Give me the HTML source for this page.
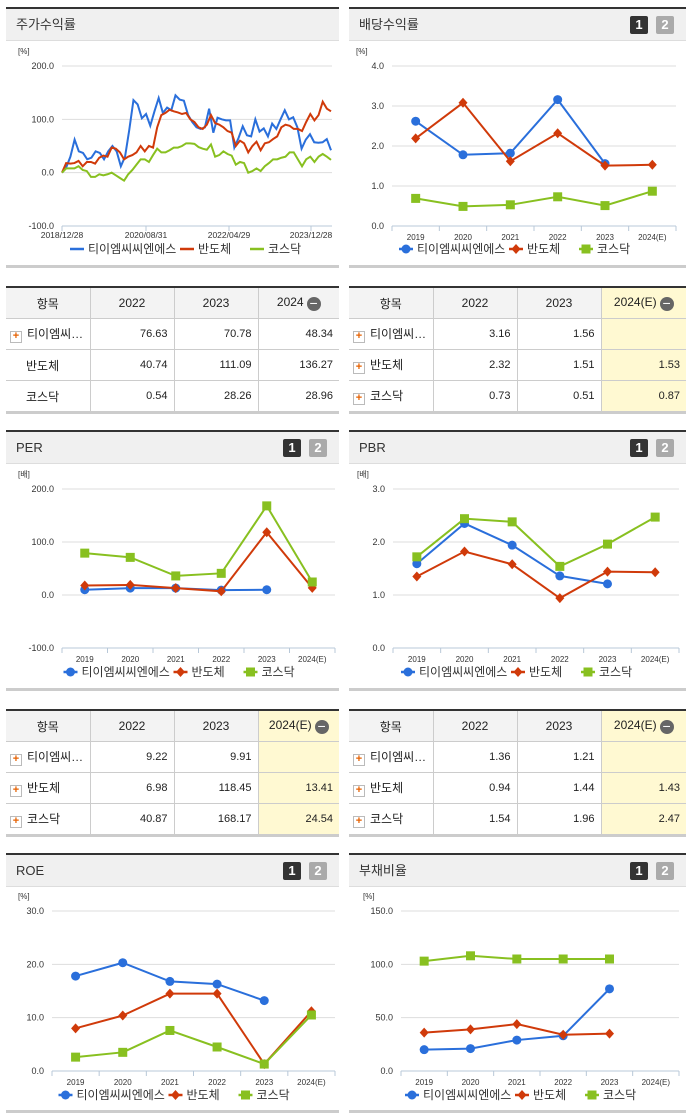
<!DOCTYPE html>
<html><head><meta charset="utf-8">
<style>
body{margin:0;width:691px;height:1115px;background:#fff;font-family:"Liberation Sans","Noto Sans CJK KR",sans-serif;position:relative;overflow:hidden}
.panel{position:absolute;border-top:2px solid #333}
.hdr{height:31px;background:#f0f0f0;border-bottom:1px solid #ddd;font-size:13px;color:#333;line-height:31px;padding-left:10px;position:relative}
.bd{position:absolute;top:7px;width:18px;height:18px;font-size:13px;font-weight:bold;color:#fff;text-align:center;line-height:18px;border-radius:2px}
.b1{right:38px;background:#333}.b2{right:12px;background:#aaa}
.foot{position:absolute;height:3px;background:#ccc}
table{position:absolute;border-collapse:collapse;border-top:2px solid #333;border-bottom:3px solid #ccc;font-size:11px;color:#222;table-layout:fixed}
td,th{border:1px solid #ccc;height:30px;padding:0 6px}
th{background:#f3f3f3;font-weight:normal;font-size:12px;text-align:center}
tr td:first-child,tr th:first-child{border-left:none}
tr td:last-child,tr th:last-child{border-right:none}
td{text-align:right}
td.n{text-align:left;font-size:12px;padding-left:4px}
.pl{display:inline-block;width:10px;height:10px;border:1px solid #bbb;background:#fff;color:#e66000;font-size:11px;line-height:9px;text-align:center;margin-right:5px;vertical-align:-1px;font-weight:bold}
.y{background:#fff9d2}
.mn{display:inline-block;width:14px;height:14px;border-radius:7px;background:#666;color:#fff;line-height:13px;font-size:14px;vertical-align:-2px;margin-left:3px}
svg{position:absolute;left:0;top:0}
</style></head><body>

<div class="panel" style="left:6px;top:7px;width:333px"><div class="hdr">주가수익률</div></div>
<div class="panel" style="left:349px;top:7px;width:337px"><div class="hdr">배당수익률<span class="bd b1">1</span><span class="bd b2">2</span></div></div>
<div class="foot" style="left:6px;top:265px;width:333px"></div>
<div class="foot" style="left:349px;top:265px;width:337px"></div>

<table style="left:6px;top:286px;width:333px">
<colgroup><col style="width:84px"><col style="width:84px"><col style="width:84px"><col></colgroup>
<tr><th>항목</th><th>2022</th><th>2023</th><th>2024<span class="mn">−</span></th></tr>
<tr><td class="n"><span class="pl">+</span>티이엠씨…</td><td>76.63</td><td>70.78</td><td>48.34</td></tr>
<tr><td class="n" style="padding-left:20px">반도체</td><td>40.74</td><td>111.09</td><td>136.27</td></tr>
<tr><td class="n" style="padding-left:20px">코스닥</td><td>0.54</td><td>28.26</td><td>28.96</td></tr>
</table>
<table style="left:349px;top:286px;width:337px">
<colgroup><col style="width:84px"><col style="width:84px"><col style="width:84px"><col></colgroup>
<tr><th>항목</th><th>2022</th><th>2023</th><th class="y">2024(E)<span class="mn">−</span></th></tr>
<tr><td class="n"><span class="pl">+</span>티이엠씨…</td><td>3.16</td><td>1.56</td><td class="y"></td></tr>
<tr><td class="n"><span class="pl">+</span>반도체</td><td>2.32</td><td>1.51</td><td class="y">1.53</td></tr>
<tr><td class="n"><span class="pl">+</span>코스닥</td><td>0.73</td><td>0.51</td><td class="y">0.87</td></tr>
</table>

<div class="panel" style="left:6px;top:430px;width:333px"><div class="hdr">PER<span class="bd b1">1</span><span class="bd b2">2</span></div></div>
<div class="panel" style="left:349px;top:430px;width:337px"><div class="hdr">PBR<span class="bd b1">1</span><span class="bd b2">2</span></div></div>
<div class="foot" style="left:6px;top:688px;width:333px"></div>
<div class="foot" style="left:349px;top:688px;width:337px"></div>

<table style="left:6px;top:709px;width:333px">
<colgroup><col style="width:84px"><col style="width:84px"><col style="width:84px"><col></colgroup>
<tr><th>항목</th><th>2022</th><th>2023</th><th class="y">2024(E)<span class="mn">−</span></th></tr>
<tr><td class="n"><span class="pl">+</span>티이엠씨…</td><td>9.22</td><td>9.91</td><td class="y"></td></tr>
<tr><td class="n"><span class="pl">+</span>반도체</td><td>6.98</td><td>118.45</td><td class="y">13.41</td></tr>
<tr><td class="n"><span class="pl">+</span>코스닥</td><td>40.87</td><td>168.17</td><td class="y">24.54</td></tr>
</table>
<table style="left:349px;top:709px;width:337px">
<colgroup><col style="width:84px"><col style="width:84px"><col style="width:84px"><col></colgroup>
<tr><th>항목</th><th>2022</th><th>2023</th><th class="y">2024(E)<span class="mn">−</span></th></tr>
<tr><td class="n"><span class="pl">+</span>티이엠씨…</td><td>1.36</td><td>1.21</td><td class="y"></td></tr>
<tr><td class="n"><span class="pl">+</span>반도체</td><td>0.94</td><td>1.44</td><td class="y">1.43</td></tr>
<tr><td class="n"><span class="pl">+</span>코스닥</td><td>1.54</td><td>1.96</td><td class="y">2.47</td></tr>
</table>

<div class="panel" style="left:6px;top:853px;width:333px"><div class="hdr">ROE<span class="bd b1">1</span><span class="bd b2">2</span></div></div>
<div class="panel" style="left:349px;top:853px;width:337px"><div class="hdr">부채비율<span class="bd b1">1</span><span class="bd b2">2</span></div></div>
<div class="foot" style="left:6px;top:1110px;width:333px"></div>
<div class="foot" style="left:349px;top:1110px;width:337px"></div>

<svg id="chart" width="691" height="1115"></svg>

<script>
// ---- stock return (index-spaced weekly-ish samples) ----
const stockDates = ["2018/12/28","2020/08/31","2022/04/29","2023/12/28"];
const stockTicks = [200,100,0,-100];
const stockBlue = [0,10,30,62,40,37,25,28,40,37,25,40,50,40,12,30,80,136,128,102,110,88,115,140,112,122,117,145,137,135,108,95,85,82,85,120,75,103,100,98,98,47,65,87,70,68,100,77,83,68,92,82,100,117,100,104,85,45,62,72,57,56,57,63,42];
const stockRed = [0,18,17,18,22,12,20,20,17,28,32,30,47,45,38,25,30,33,38,50,40,50,47,85,108,112,118,115,113,110,112,100,95,85,82,90,108,93,90,85,78,75,50,60,55,38,50,58,42,55,57,63,68,85,90,88,82,82,78,95,110,98,108,133,120,115];
const stockGreen = [0,8,8,8,12,5,3,-8,-8,-3,-5,-3,0,-5,-10,-15,-3,5,15,25,25,20,33,45,38,38,42,47,47,50,55,55,54,48,45,43,53,30,33,40,35,32,15,20,18,0,3,8,3,12,18,25,25,28,30,38,38,25,12,25,30,20,30,35,30,24];

// ---- annual charts ----
const years = ["2019","2020","2021","2022","2023","2024(E)"];
const divTicks = [4,3,2,1,0];
const divBlue = [2.62,1.78,1.82,3.16,1.56];
const divRed = [2.19,3.08,1.62,2.32,1.51,1.53];
const divGreen = [0.69,0.49,0.53,0.73,0.51,0.87];
const perTicks = [200,100,0,-100];
const perBlue = [10,13,13,9.22,9.91];
const perRed = [18,19,13,6.98,118.45,13.41];
const perGreen = [79,71,36,40.87,168.17,24.54];
const pbrTicks = [3,2,1,0];
const pbrBlue = [1.59,2.35,1.94,1.36,1.21];
const pbrRed = [1.35,1.82,1.58,0.94,1.44,1.43];
const pbrGreen = [1.72,2.44,2.38,1.54,1.96,2.47];
const roeTicks = [30,20,10,0];
const roeBlue = [17.8,20.3,16.8,16.3,13.2];
const roeRed = [8,10.4,14.5,14.5,1.3,11.2];
const roeGreen = [2.6,3.5,7.6,4.5,1.3,10.5];
const debtTicks = [150,100,50,0];
const debtBlue = [20,21,29,33,77];
const debtRed = [36,39,44,34,35];
const debtGreen = [103,108,105,105,105];

const NS="http://www.w3.org/2000/svg";
const svg=document.getElementById('chart');
const C={b:"#2a6fdb",r:"#d03a0a",g:"#88c020"};
function mk(tag,at,parent){const e=document.createElementNS(NS,tag);for(const k in at)e.setAttribute(k,at[k]);(parent||svg).appendChild(e);return e;}
function txt(x,y,s,at){const t=mk('text',Object.assign({x:x,y:y,'font-size':9,fill:'#333','font-family':'Liberation Sans, Noto Sans CJK KR, sans-serif'},at||{}));t.textContent=s;return t;}

function axes(g,cfg){
  const t=cfg.ticks,max=t[0],min=t[t.length-1];
  const ys=v=>cfg.yTop+(max-v)/(max-min)*(cfg.yBot-cfg.yTop);
  txt(cfg.x0-44+cfg.unitDx,cfg.yTop-12,cfg.unit,{'font-size':8});
  t.forEach(v=>{
    const y=ys(v);
    if(v!==min){const l=mk('line',{x1:cfg.x0,x2:cfg.x1,y1:y,y2:y,stroke:'#ddd'},g);
    
    }
    const lb=txt(cfg.x0-8,y+3,v.toFixed(1),{'text-anchor':'end'});
    
    
  });
  mk('line',{x1:cfg.x0,x2:cfg.x1,y1:cfg.yBot,y2:cfg.yBot,stroke:'#b8c8d8'},g);
  return ys;
}
function legend(g,cx,y,markers){
  const items=[["티이엠씨씨엔에스",C.b,'c'],["반도체",C.r,'d'],["코스닥",C.g,'s']];
  const widths=[88,48,48];let total=0;widths.forEach(w=>total+=w+22);
  let x=cx-total/2;
  items.forEach((it,i)=>{
    const e=mk('g',{},g);
    
    
    mk('line',{x1:x,x2:x+14,y1:y-4,y2:y-4,stroke:it[1],'stroke-width':2.5},e);
    if(markers) marker(e,x+7,y-4,it[2],it[1]);
    txt(x+18,y,it[0],{'font-size':12,fill:'#333'});
    x+=widths[i]+22;
  });
}
function marker(g,x,y,type,col){
  let m;
  if(type==='c') m=mk('circle',{cx:x,cy:y,r:4.5,fill:col},g);
  else if(type==='d') m=mk('path',{d:`M${x} ${y-5}L${x+4.5} ${y}L${x} ${y+5}L${x-4.5} ${y}Z`,fill:col},g);
  else m=mk('rect',{x:x-4.5,y:y-4.5,width:9,height:9,fill:col},g);
  return m;
}
function annual(name,cfg,series){
  const g=mk('g',{});
  
  
  const ys=axes(g,cfg);
  const n=years.length,step=(cfg.x1-cfg.x0)/n;
  const xs=i=>cfg.x0+step*(i+0.5);
  for(let i=0;i<=n;i++) mk('line',{x1:cfg.x0+step*i,x2:cfg.x0+step*i,y1:cfg.yBot,y2:cfg.yBot+5,stroke:'#b8c8d8'},g);
  years.forEach((yr,i)=>{const l=txt(xs(i),cfg.yBot+14,yr,{'text-anchor':'middle','font-size':8});
    
    });
  series.forEach(s=>{
    const pts=s.data.map((v,i)=>xs(i)+','+ys(v)).join(' ');
    const p=mk('polyline',{points:pts,fill:'none',stroke:s.col,'stroke-width':2},g);
    
    
    s.data.forEach((v,i)=>{const m=marker(g,xs(i),ys(v),s.m,s.col);
      
      });
  });
  legend(g,(cfg.x0+cfg.x1)/2-10,cfg.legY,true);
}

// stock chart
(function(){
  const cfg={x0:62,x1:332,yTop:66,yBot:226,ticks:stockTicks,unit:'[%]',unitDx:0};
  const g=mk('g',{});
  
  
  const ys=axes(g,cfg);
  const tx=[62,146,229,311];
  stockDates.forEach((d,i)=>{mk('line',{x1:tx[i],x2:tx[i],y1:cfg.yBot,y2:cfg.yBot+5,stroke:'#b8c8d8'},g);
    const l=txt(tx[i],cfg.yBot+12,d,{'text-anchor':'middle','font-size':8.5});
    
    });
  [[stockBlue,C.b,'tem-ccns'],[stockRed,C.r,'semiconductor'],[stockGreen,C.g,'kosdaq']].forEach(s=>{
    const arr=s[0],st=(cfg.x1-1-cfg.x0)/(arr.length-1);
    const p=mk('polyline',{points:arr.map((v,i)=>(cfg.x0+st*i)+','+ys(v)).join(' '),fill:'none',stroke:s[1],'stroke-width':2},g);
    
    
  });
  legend(g,195,253,false);
})();

const S=(b,r,gr)=>[{data:b,col:C.b,m:'c',name:'tem-ccns'},{data:r,col:C.r,m:'d',name:'semiconductor'},{data:gr,col:C.g,m:'s',name:'kosdaq'}];
annual('dividend',{x0:392,x1:676,yTop:66,yBot:226,ticks:divTicks,unit:'[%]',unitDx:8,legY:253},S(divBlue,divRed,divGreen));
annual('per',{x0:62,x1:335,yTop:489,yBot:648,ticks:perTicks,unit:'[배]',unitDx:0,legY:676},S(perBlue,perRed,perGreen));
annual('pbr',{x0:393,x1:679,yTop:489,yBot:648,ticks:pbrTicks,unit:'[배]',unitDx:8,legY:676},S(pbrBlue,pbrRed,pbrGreen));
annual('roe',{x0:52,x1:335,yTop:911,yBot:1071,ticks:roeTicks,unit:'[%]',unitDx:10,legY:1099},S(roeBlue,roeRed,roeGreen));
annual('debt',{x0:401,x1:679,yTop:911,yBot:1071,ticks:debtTicks,unit:'[%]',unitDx:6,legY:1099},S(debtBlue,debtRed,debtGreen));
</script>
</body></html>
